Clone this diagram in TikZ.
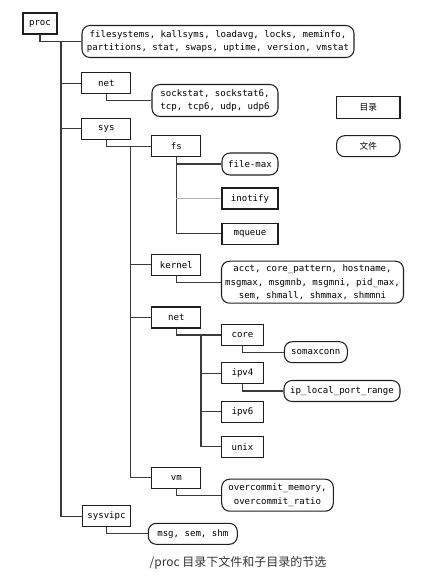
\documentclass[tikz,border=0pt]{standalone}
\usepackage{fontspec}
\setmonofont{DejaVu Sans Mono}
\newfontfamily\cjk{Noto Sans CJK SC}
\definecolor{linegray}{HTML}{3A3A3A}
\definecolor{boxgray}{HTML}{1E1E1E}
\begin{document}
\begin{tikzpicture}[x=0.75pt,y=-0.75pt,
  dirbox/.style={draw=boxgray, line width=0.8pt, inner sep=0pt, minimum height=15.75pt,
    font=\ttfamily\fontsize{6.8}{10}\selectfont},
  filebox/.style={dirbox, rounded corners=6pt, align=center},
  link/.style={draw=linegray, line width=0.8pt}]
\useasboundingbox (0,0) rectangle (439,576);
% top level
\node[dirbox, minimum width=25.5pt] (proc) at (40,23.5) {proc};
\node[filebox, minimum width=204pt, minimum height=24pt] (procfiles) at (218,41.5)
  {filesystems, kallsyms, loadavg, locks, meminfo,\\partitions, stat, swaps, uptime, version, vmstat};
\node[dirbox, minimum width=36.75pt] (net) at (106.3,83.3) {net};
\node[filebox, minimum width=94.5pt, minimum height=24pt] (netfiles) at (215,100.5)
  {sockstat, sockstat6,\\tcp, tcp6, udp, udp6};
\node[dirbox, minimum width=36.75pt] (sys) at (106.3,128.7) {sys};
\node[dirbox, minimum width=36.3pt] (sysvipc) at (106.5,516.2) {sysvipc};
\node[filebox, minimum width=66.75pt] (ipcfiles) at (192.8,533.8) {msg, sem, shm};
% sys
\node[dirbox, minimum width=36.75pt] (fs) at (176.3,146.2) {fs};
\node[filebox, minimum width=42pt, minimum height=16.5pt] (filemax) at (250,164) {file-max};
\node[dirbox, minimum width=42pt] (inotify) at (250,198.5) {inotify};
\node[dirbox, minimum width=42pt] (mqueue) at (250,233.7) {mqueue};
\node[dirbox, minimum width=36.75pt] (kernel) at (176.3,264.8) {kernel};
\node[filebox, minimum width=136.5pt, minimum height=31.5pt] (kernfiles) at (312.5,282.2)
  {acct, core\_pattern, hostname,\\msgmax, msgmnb, msgmni, pid\_max,\\sem, shmall, shmmax, shmmni};
\node[dirbox, minimum width=36.75pt] (knet) at (176.3,317.5) {net};
\node[dirbox, minimum width=31.2pt] (core) at (242.5,335) {core};
\node[filebox, minimum width=47.25pt] (somaxconn) at (315.8,352.2) {somaxconn};
\node[dirbox, minimum width=31.2pt] (ipv4) at (242.5,373.3) {ipv4};
\node[filebox, minimum width=87pt] (iplocal) at (342,391) {ip\_local\_port\_range};
\node[dirbox, minimum width=31.2pt] (ipv6) at (242.5,411.7) {ipv6};
\node[dirbox, minimum width=31.2pt] (unix) at (242.5,446.8) {unix};
\node[dirbox, minimum width=36.75pt] (vm) at (176.3,477.8) {vm};
\node[filebox, minimum width=83.7pt, minimum height=24pt] (vmfiles) at (277.5,495.2)
  {overcommit\_memory,\\overcommit\_ratio};
% legend
\node[dirbox, minimum width=47.5pt, minimum height=16.2pt, font=\cjk\fontsize{6.5}{8}\selectfont] (legdir) at (368.3,107.5) {目录};
\node[filebox, minimum width=47.5pt, font=\cjk\fontsize{6.5}{8}\selectfont] (legfile) at (368.3,146.2) {文件};
% connectors
\coordinate (t0) at (61,41.5);
\coordinate (t1) at (130.7,146.2);
\coordinate (t2) at (201,335);
\draw[link] (proc.south) |- (procfiles.west);
\draw[link] (t0) |- (sysvipc.west);
\draw[link] (net.west) -- (net.west -| t0);
\draw[link] (sys.west) -- (sys.west -| t0);
\draw[link] (net.south) |- (netfiles.west);
\draw[link] (sysvipc.south) |- (ipcfiles.west);
\draw[link] (sys.south) |- (fs.west);
\draw[link] (t1) |- (vm.west);
\draw[link] (kernel.west) -- (kernel.west -| t1);
\draw[link] (knet.west) -- (knet.west -| t1);
\draw[link] (fs.south) |- (filemax.west);
\draw[link] (fs.south) |- (mqueue.west);
\draw[link, draw=black!30] (inotify.west) -- (inotify.west -| fs.south);
\draw[link] (kernel.south) |- (kernfiles.west);
\draw[link] (knet.south) |- (core.west);
\draw[link] (t2) |- (unix.west);
\draw[link] (ipv4.west) -- (ipv4.west -| t2);
\draw[link] (ipv6.west) -- (ipv6.west -| t2);
\draw[link] (core.south) |- (somaxconn.west);
\draw[link] (ipv4.south) |- (iplocal.west);
\draw[link] (vm.south) |- (vmfiles.west);
% caption
\node[text=black!80, font=\cjk\fontsize{9}{11}\selectfont] (caption) at (238,562.7) {/proc 目录下文件和子目录的节选};
\end{tikzpicture}
\end{document}
